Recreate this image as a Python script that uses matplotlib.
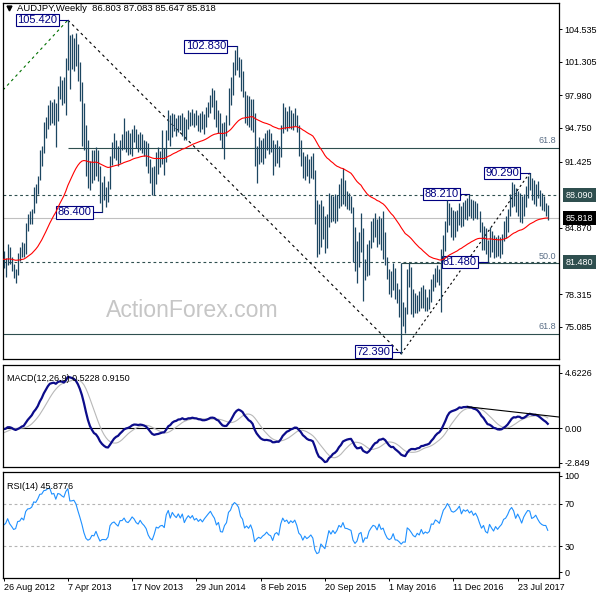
import numpy as np
import pandas as pd
import matplotlib
matplotlib.use('Agg')
import matplotlib.pyplot as plt
from matplotlib.transforms import blended_transform_factory

plt.rcParams['font.family'] = ['Liberation Sans', 'DejaVu Sans']

# weekly closes before the visible window (indicator warm-up only)
pre_close = [85.2, 86.0, 86.8, 84.0, 80.0, 78.8, 79.2, 80.5,
             79.8, 78.0, 76.0, 75.3, 76.0, 78.6, 79.2, 81.6,
             79.6, 79.2, 77.2, 75.8, 79.4, 77.8, 76.8, 78.8,
             78.7, 79.0, 80.4, 81.9, 82.6, 81.9, 84.0, 86.2,
             87.2, 88.0, 86.0, 85.0, 84.5, 84.7, 84.2, 84.3,
             82.2, 80.5, 78.3, 77.5, 78.8, 79.2, 78.6, 81.5,
             80.3, 80.0, 80.2, 81.8, 82.4, 82.8, 81.8]

start_date = '2012-08-26'

# visible weekly bars, 26 Aug 2012 .. 12 Nov 2017
high = [82.6, 81.9, 83.3, 83.0, 82.0, 81.3, 80.8, 82.4, 83.0, 83.5,
        83.4, 85.3, 86.2, 86.5, 86.7, 88.9, 89.2, 90.0, 92.6, 93.0,
        95.3, 95.8, 97.0, 97.5, 97.3, 97.6, 97.2, 98.9, 99.9, 99.5,
        99.8, 101.7, 105.42, 103.9, 104.0, 103.6, 104.1, 103.1, 101.3, 99.3,
        97.2, 95.0, 93.6, 91.5, 92.6, 92.6, 92.9, 92.6, 91.0, 89.4,
        90.0, 88.9, 89.5, 92.0, 93.4, 94.2, 93.6, 93.0, 93.6, 94.1,
        95.7, 94.4, 94.5, 94.2, 94.6, 95.0, 94.6, 94.1, 94.3, 94.1,
        93.6, 93.5, 93.3, 91.7, 90.9, 91.0, 92.4, 92.9, 92.5, 94.5,
        92.8, 94.5, 96.5, 96.0, 96.2, 96.1, 95.7, 96.0, 96.0, 96.2,
        95.8, 95.6, 96.5, 96.3, 96.6, 96.2, 96.5, 96.0, 96.2, 96.4,
        96.1, 96.8, 97.3, 98.0, 98.7, 98.5, 97.5, 96.5, 96.2, 95.2,
        95.3, 96.0, 98.7, 99.8, 101.3, 102.5, 102.83, 101.8, 101.6, 100.4,
        98.4, 98.0, 97.9, 97.6, 97.6, 96.2, 93.0, 93.9, 93.6, 93.8,
        94.2, 94.5, 94.6, 94.2, 93.6, 93.2, 93.6, 93.0, 95.0, 97.2,
        96.8, 96.4, 96.9, 96.5, 96.2, 96.7, 96.0, 95.0, 93.6, 92.4,
        92.0, 92.2, 91.7, 92.0, 92.3, 90.6, 87.6, 87.2, 87.6, 87.0,
        86.0, 86.2, 88.3, 88.1, 88.0, 88.2, 88.1, 89.2, 89.8, 90.8,
        89.6, 88.5, 88.3, 88.0, 86.9, 84.9, 83.6, 84.5, 86.3, 84.8,
        81.8, 83.3, 83.7, 85.5, 85.8, 86.3, 85.7, 86.0, 85.8, 86.5,
        84.5, 82.0, 80.8, 80.6, 81.4, 80.9, 79.4, 78.8, 81.4, 77.5,
        77.0, 80.8, 81.4, 81.0, 78.8, 78.4, 78.2, 78.6, 79.0, 79.2,
        78.8, 78.0, 78.8, 79.8, 80.3, 80.9, 81.2, 80.8, 82.8, 84.2,
        85.5, 87.6, 87.3, 86.9, 86.6, 86.5, 86.6, 87.3, 87.0, 87.4,
        87.6, 87.8, 88.21, 87.7, 87.6, 87.5, 87.3, 86.5, 85.4, 85.0,
        84.8, 83.7, 84.9, 84.6, 84.2, 84.0, 84.2, 84.0, 84.3, 85.5,
        86.0, 86.7, 88.2, 89.4, 89.2, 88.8, 88.5, 88.3, 88.0, 88.2,
        89.0, 90.0, 90.29, 89.8, 89.6, 89.2, 89.5, 88.6, 88.3, 88.0,
        87.3, 87.083]
low = [80.9, 80.0, 81.2, 81.3, 80.6, 79.9, 79.4, 80.2, 81.6, 82.0,
       82.0, 82.3, 84.6, 85.2, 85.2, 86.3, 87.3, 88.2, 89.6, 91.0,
       92.3, 93.8, 94.6, 95.0, 95.2, 95.0, 92.9, 95.4, 97.6, 97.0,
       97.2, 96.0, 100.5, 98.6, 100.6, 100.4, 100.9, 99.4, 97.4, 93.0,
       92.6, 90.0, 88.8, 88.6, 89.3, 89.6, 90.0, 89.5, 87.3, 86.4,
       87.6, 86.9, 87.4, 88.7, 91.1, 91.8, 91.6, 91.0, 91.3, 92.6,
       92.7, 92.4, 92.1, 92.2, 92.0, 93.4, 92.8, 92.4, 92.6, 92.3,
       92.0, 91.0, 90.3, 89.3, 88.1, 88.1, 89.2, 90.2, 90.9, 91.2,
       90.1, 91.4, 93.6, 93.0, 93.9, 94.4, 94.0, 94.3, 94.5, 94.0,
       93.6, 93.6, 94.6, 94.9, 95.0, 94.8, 95.0, 94.4, 94.3, 94.6,
       94.1, 94.8, 95.8, 96.2, 96.8, 95.6, 94.8, 94.2, 93.6, 92.8,
       91.7, 94.0, 95.0, 97.0, 98.0, 100.0, 100.5, 99.8, 98.4, 97.8,
       95.2, 95.0, 94.8, 94.5, 94.3, 91.0, 89.3, 91.2, 91.4, 91.2,
       91.8, 92.6, 92.2, 92.4, 90.1, 91.0, 91.3, 90.9, 91.9, 94.2,
       94.6, 94.4, 94.7, 94.6, 94.5, 94.9, 94.3, 92.0, 91.0, 89.8,
       89.6, 90.0, 89.3, 89.8, 89.7, 85.2, 82.0, 82.3, 83.0, 83.8,
       82.4, 82.9, 84.9, 85.4, 85.5, 85.3, 85.5, 86.8, 87.0, 87.2,
       87.0, 86.7, 86.6, 86.3, 81.5, 80.6, 79.4, 81.0, 82.5, 77.6,
       79.7, 80.1, 80.2, 82.9, 83.5, 84.0, 83.0, 83.3, 82.7, 81.8,
       81.2, 79.8, 78.3, 78.0, 78.7, 77.8, 77.4, 76.0, 72.39, 75.2,
       74.5, 76.3, 79.0, 76.3, 76.0, 76.4, 76.4, 76.6, 76.9, 76.9,
       76.6, 76.6, 76.8, 77.5, 78.6, 79.0, 79.5, 79.2, 76.5, 81.6,
       82.6, 84.5, 85.1, 84.0, 83.7, 84.0, 84.6, 85.1, 84.9, 85.0,
       85.7, 85.6, 86.0, 85.8, 85.6, 85.8, 85.7, 84.5, 82.7, 82.7,
       82.3, 81.48, 82.0, 82.5, 81.9, 82.0, 82.1, 81.9, 82.3, 83.6,
       83.9, 84.5, 86.0, 86.9, 87.0, 86.4, 86.0, 85.4, 85.3, 86.0,
       86.9, 87.8, 88.6, 87.6, 87.2, 87.0, 87.8, 87.0, 86.6, 86.5,
       86.0, 85.647]
close = [81.2, 81.6, 82.9, 81.7, 81.0, 80.2, 80.4, 82.1, 82.2, 83.0,
         82.6, 85.0, 85.9, 86.0, 86.5, 88.5, 88.4, 89.9, 92.4, 92.6,
         94.9, 95.2, 96.5, 96.8, 95.9, 96.3, 95.4, 98.6, 98.5, 98.2,
         98.0, 101.5, 103.9, 101.4, 101.5, 101.8, 101.1, 99.6, 98.0, 96.0,
         93.1, 90.6, 89.7, 90.0, 91.0, 90.8, 92.0, 90.0, 88.0, 88.4,
         88.4, 88.3, 88.9, 91.8, 92.6, 92.9, 92.3, 91.8, 93.3, 93.3,
         94.0, 93.2, 93.0, 93.6, 94.4, 94.0, 93.3, 93.0, 93.8, 93.2,
         92.8, 92.2, 90.8, 89.9, 89.5, 90.4, 91.7, 91.5, 91.9, 92.0,
         91.6, 94.2, 95.4, 94.0, 95.6, 95.0, 94.6, 95.6, 94.8, 95.9,
         94.1, 95.2, 96.0, 95.5, 96.2, 95.3, 95.7, 95.1, 95.6, 95.1,
         95.8, 96.4, 97.0, 97.6, 97.0, 96.5, 95.3, 95.8, 93.9, 93.8,
         95.0, 95.6, 98.2, 98.9, 100.8, 101.7, 101.4, 100.9, 99.2, 98.6,
         96.5, 97.0, 96.4, 97.2, 95.8, 91.9, 92.5, 92.9, 92.5, 93.0,
         93.3, 93.8, 93.1, 92.8, 91.4, 92.6, 92.9, 92.2, 94.6, 96.2,
         95.4, 95.8, 95.0, 95.7, 95.3, 95.9, 94.8, 92.8, 92.2, 90.6,
         91.4, 90.6, 90.9, 91.3, 90.4, 85.8, 83.4, 83.6, 85.4, 84.2,
         83.0, 85.0, 87.6, 86.2, 87.3, 86.1, 87.0, 88.6, 88.0, 89.5,
         87.6, 87.5, 87.2, 86.9, 83.2, 81.6, 82.2, 84.1, 84.5, 80.0,
         81.3, 81.1, 83.2, 84.3, 85.2, 84.9, 83.6, 85.5, 83.6, 84.0,
         81.8, 80.0, 79.2, 79.5, 80.8, 78.1, 78.0, 77.2, 76.1, 76.6,
         76.5, 80.2, 79.6, 78.6, 77.4, 76.9, 77.8, 77.2, 78.6, 77.1,
         77.6, 77.2, 77.6, 79.5, 79.4, 80.6, 80.3, 79.8, 81.6, 83.8,
         84.8, 86.6, 86.0, 85.0, 84.8, 85.2, 85.9, 86.9, 85.4, 86.8,
         86.5, 87.0, 86.4, 87.0, 86.2, 86.8, 86.1, 84.9, 83.7, 84.3,
         82.8, 82.4, 84.3, 83.4, 82.6, 83.6, 82.9, 83.5, 84.0, 85.2,
         85.5, 86.4, 87.8, 88.6, 88.0, 86.6, 87.8, 87.0, 85.9, 87.5,
         88.6, 89.6, 89.5, 88.0, 88.3, 88.9, 88.1, 87.4, 87.0, 86.8,
         86.8, 85.818]

# swing high / low labels
swing_idx = [32, 116, 49, 232, 262, 241, 198]
swing_val = [105.42, 102.83, 86.40, 88.21, 90.29, 81.48, 72.39]

# horizontal levels
dash_levels = [88.09, 81.48]
last_price = 85.818
fib_levels = [92.80, 81.34, 74.40]
fib_start = [32, 198, -1]
fib_names = ['61.8', '50.0', '61.8']

price_ticks = [104.535, 101.305, 97.980, 94.750, 91.425, 84.870, 78.315, 75.085]
macd_ticks = [4.6226, 0.0, -2.849]

bar_col = '#1c4661'
slate = '#2f4f4f'
navy = '#000080'

n = len(close)
xs = np.arange(n)
dates = pd.date_range(start_date, periods=n, freq='7D')
npre = len(pre_close)

allc = pd.Series(pre_close + close)
ema55 = allc.ewm(span=55, adjust=False).mean().values[npre:]
macd_all = allc.ewm(span=12, adjust=False).mean() - allc.ewm(span=26, adjust=False).mean()
sig_all = macd_all.rolling(9).mean()
macd = macd_all.values[npre:]
sig = sig_all.values[npre:]
delta = allc.diff()
gain = delta.clip(lower=0).ewm(alpha=1 / 14, adjust=False).mean()
loss = (-delta.clip(upper=0)).ewm(alpha=1 / 14, adjust=False).mean()
rsi = (100 - 100 / (1 + gain / loss)).values[npre:]

fig = plt.figure(figsize=(6, 6), dpi=100)
L, W = 0.005, 0.9267
ax1 = fig.add_axes([L, 0.4017, W, 0.5938])
ax2 = fig.add_axes([L, 0.2217, W, 0.1708])
ax3 = fig.add_axes([L, 0.0362, W, 0.1777])
xlim = (-0.3, 276.6)

for ax in (ax1, ax2, ax3):
    ax.set_xlim(*xlim)
    ax.yaxis.tick_right()
    ax.tick_params(axis='y', direction='out', length=2.5, width=0.7, pad=1.5,
                   labelsize=6.5, colors='black')
    ax.tick_params(axis='x', bottom=False, labelbottom=False)
    for s in ax.spines.values():
        s.set_linewidth(0.9)
        s.set_color('black')

# ---- price panel
ax1.set_ylim(71.89, 107.14)
ax1.vlines(xs, low, high, color=bar_col, lw=0.9, zorder=3)
ax1.plot(xs, ema55, color='red', lw=0.8, zorder=4)

for lv in dash_levels:
    ax1.axhline(lv, color=slate, lw=0.8, ls=(0, (2.5, 2.5)), zorder=2)
ax1.axhline(last_price, color='#c0c0c0', lw=0.8, zorder=1)
for lv, st, nm in zip(fib_levels, fib_start, fib_names):
    ax1.hlines(lv, max(st, xlim[0]), xlim[1], color=slate, lw=0.8, zorder=2)
    ax1.text(xlim[1] - 1.5, lv + 0.25, nm, ha='right', va='bottom', fontsize=6.5,
             color='#5a6e86', zorder=2)

# trend lines
ax1.plot([swing_idx[0], swing_idx[6]], [swing_val[0], swing_val[6]],
         color='black', lw=0.8, ls=(0, (2.5, 3)), zorder=2)
ax1.plot([swing_idx[6], swing_idx[4]], [swing_val[6], swing_val[4]],
         color='black', lw=0.8, ls=(0, (2, 2.5)), zorder=2)
ax1.plot([xlim[0], swing_idx[0]], [98.5, swing_val[0]],
         color='#007000', lw=0.8, ls=(0, (2.5, 3)), zorder=2)

# swing labels
for i, v in zip(swing_idx, swing_val):
    ty = v if v > 74 else 72.62
    ax1.plot([i - 5, i], [ty, ty], color=navy, lw=0.8, zorder=2.5)
    ax1.text(i - 5.3, ty, f'{v:.3f}', ha='right', va='center', fontsize=8,
             color=navy, zorder=2.5,
             bbox=dict(boxstyle='square,pad=0.12', fc='white', ec=navy, lw=0.8))

ax1.text(0.340, 0.137, 'ActionForex.com', transform=ax1.transAxes, ha='center',
         va='center', fontsize=16.6, color='#c6c6c6', zorder=1)

ax1.set_yticks(price_ticks)
ax1.set_yticklabels([f'{t:.3f}' for t in price_ticks])
tr = blended_transform_factory(ax1.transAxes, ax1.transData)
for v, fc in [(88.09, slate), (last_price, 'black'), (81.48, slate)]:
    ax1.text(1.012, v, f'{v:.3f}', transform=tr, ha='left', va='center',
             fontsize=6.5, color='white', clip_on=False, zorder=5,
             bbox=dict(boxstyle='square,pad=0.3', fc=fc, ec='none'))

ax1.text(0.025, 0.984, 'AUDJPY,Weekly  86.803 87.083 85.647 85.818',
         transform=ax1.transAxes, ha='left', va='center', fontsize=6.8)
ax1.plot([0.011], [0.985], marker='v', ms=3.5, color='black',
         transform=ax1.transAxes, clip_on=False)

# ---- MACD panel
ax2.set_ylim(-3.22, 5.30)
ax2.axhline(0, color='black', lw=0.8)
ax2.plot(xs, sig, color='#b8b8b8', lw=0.8)
ax2.plot(xs, macd, color='#0c0c8a', lw=1.6)
i1 = 225 + int(np.argmax(macd[225:245]))
i2 = 255 + int(np.argmax(macd[255:270]))
slope = (macd[i2] - macd[i1]) / (i2 - i1)
ax2.plot([i1, xlim[1]], [macd[i1], macd[i1] + slope * (xlim[1] - i1)],
         color='black', lw=0.8)
ax2.set_yticks(macd_ticks)
ax2.set_yticklabels(['4.6226', '0.00', '-2.849'])
ax2.text(0.008, 0.86, 'MACD(12,26,9) 0.5228 0.9150', transform=ax2.transAxes,
         fontsize=6.5, ha='left', va='center')

# ---- RSI panel
ax3.set_ylim(0, 100)
for lv in (70, 30):
    ax3.axhline(lv, color='#b4b4b4', lw=0.8, ls=(0, (2.5, 2.5)))
ax3.plot(xs, rsi, color='#1e90ff', lw=0.8)
ax3.set_yticks([96, 70, 30, 5.5])
ax3.set_yticklabels(['100', '70', '30', '0'])
ax3.text(0.008, 0.86, 'RSI(14) 45.8776', transform=ax3.transAxes,
         fontsize=6.5, ha='left', va='center')

tick_pos = xs[::32]
ax3.set_xticks(tick_pos)
ax3.set_xticklabels([f'{d.day} {d.strftime("%b %Y")}' for d in dates[::32]],
                    ha='left')
ax3.tick_params(axis='x', bottom=True, labelbottom=True, direction='out',
                length=2.5, width=0.7, pad=1, labelsize=6.5)

fig.savefig('out.png', dpi=100)
